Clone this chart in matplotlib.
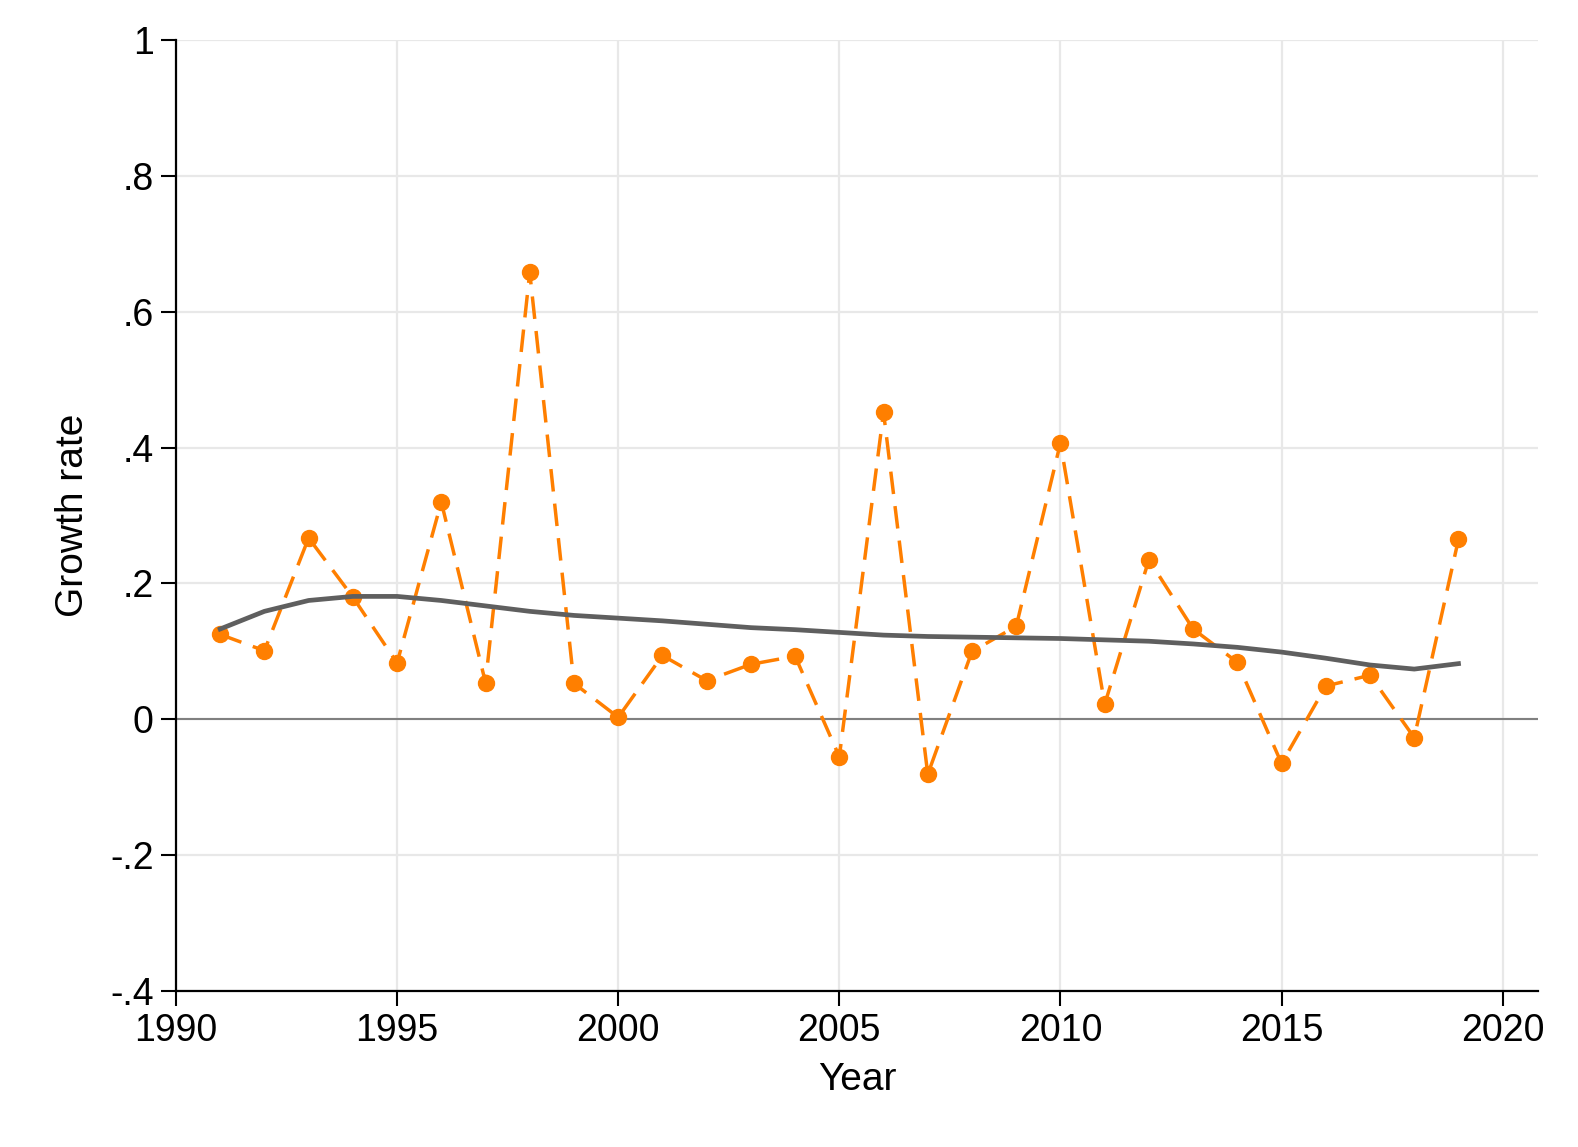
import matplotlib
matplotlib.use("Agg")
import matplotlib.pyplot as plt
from matplotlib.ticker import FixedLocator, FuncFormatter

years = list(range(1991, 2020))
growth = [
    0.125, 0.101, 0.267, 0.180, 0.083, 0.320, 0.054, 0.658, 0.053, 0.003,
    0.094, 0.057, 0.081, 0.093, -0.055, 0.452, -0.081, 0.100, 0.137, 0.407,
    0.022, 0.235, 0.133, 0.084, -0.065, 0.049, 0.065, -0.027, 0.265,
]
trend = [
    0.133, 0.159, 0.175, 0.181, 0.181, 0.175, 0.167, 0.159, 0.153, 0.149,
    0.145, 0.140, 0.135, 0.132, 0.128, 0.124, 0.122, 0.121, 0.120, 0.119,
    0.117, 0.115, 0.111, 0.106, 0.099, 0.090, 0.080, 0.074, 0.082,
]
x_ticks = [1990, 1995, 2000, 2005, 2010, 2015, 2020]
y_ticks = [-0.4, -0.2, 0, 0.2, 0.4, 0.6, 0.8, 1.0]


def stata_fmt(value, _pos):
    if abs(value) < 1e-9:
        return "0"
    if abs(value - round(value)) < 1e-9:
        return f"{int(round(value))}"
    s = f"{value:.1f}"
    return s.replace("0.", ".")


plt.rcParams["font.family"] = ["Liberation Sans", "DejaVu Sans"]
fig = plt.figure(figsize=(15.78, 11.47), dpi=100)
ax = fig.add_axes([0.1115, 0.136, 0.8632, 0.829])

ax.plot(years, growth, color="#ff7f00", linewidth=2.5, dashes=(6.5, 3.5),
        marker="o", markersize=11.5, zorder=3)
ax.plot(years, trend, color="#5f5f5f", linewidth=3.4, zorder=4)
ax.axhline(0, color="#808080", linewidth=1.5, zorder=2)

ax.set_xlim(1990, 2020.8)
ax.set_ylim(-0.4, 1.0)
ax.xaxis.set_major_locator(FixedLocator(x_ticks))
ax.yaxis.set_major_locator(FixedLocator(y_ticks))
ax.yaxis.set_major_formatter(FuncFormatter(stata_fmt))

ax.grid(True, color="#e8e8e8", linewidth=1.6, zorder=0)
ax.set_axisbelow(True)

ax.spines["top"].set_visible(False)
ax.spines["right"].set_visible(False)
ax.spines["left"].set_linewidth(1.6)
ax.spines["bottom"].set_linewidth(1.6)
ax.tick_params(axis="both", which="major", length=11, width=1.5,
               labelsize=27, pad=5, direction="out")

ax.set_xlabel("Year", fontsize=28, labelpad=9)
ax.set_ylabel("Growth rate", fontsize=28, labelpad=14)

fig.savefig("out.png", dpi=100, facecolor="white")
